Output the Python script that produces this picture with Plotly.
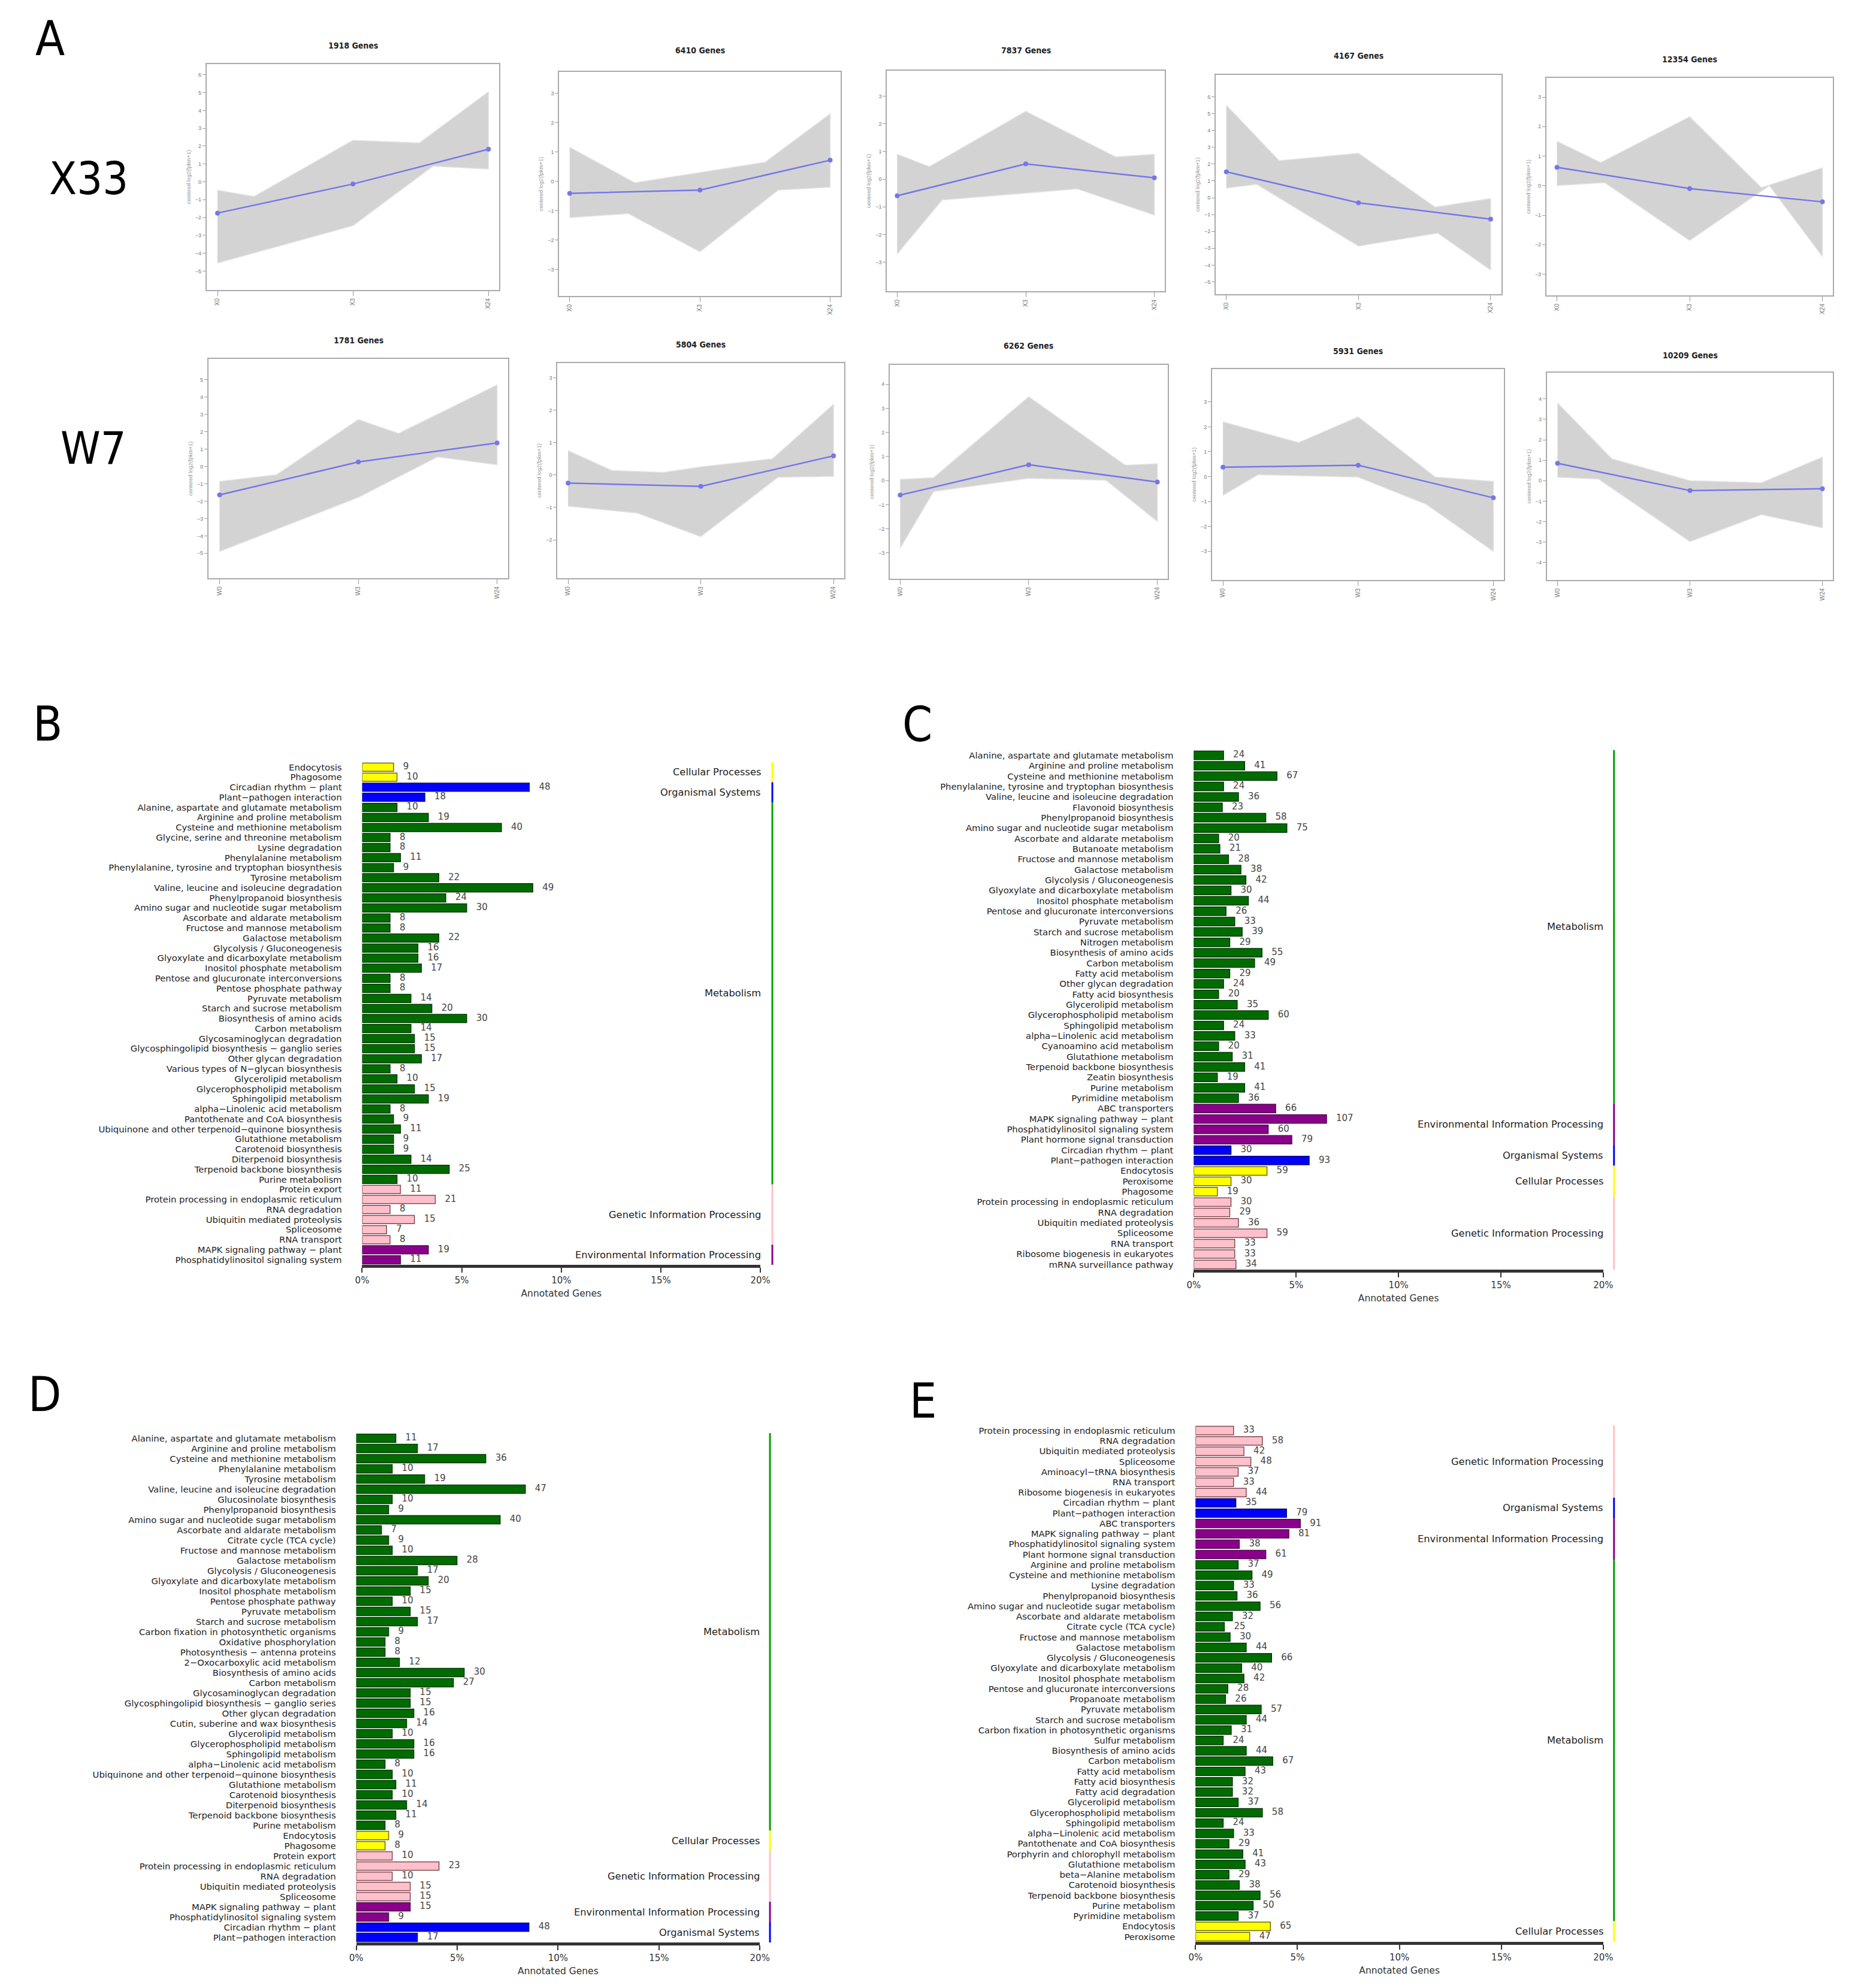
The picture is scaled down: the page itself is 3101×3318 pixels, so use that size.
import plotly.graph_objects as go

W, H = 3101, 3318

# ---------------- panel A: expression clusters ----------------
time_x = [0, 1, 2]
x33_ticks = ["X0", "X3", "X24"]
w7_ticks = ["W0", "W3", "W24"]

x33_titles = ["1918 Genes", "6410 Genes", "7837 Genes", "4167 Genes", "12354 Genes"]
w7_titles = ["1781 Genes", "5804 Genes", "6262 Genes", "5931 Genes", "10209 Genes"]

# mean profile (blue line) of each cluster
x33_means = [[-1.75, -0.12, 1.83], [-0.41, -0.30, 0.72], [-0.60, 0.55, 0.05],
             [1.54, -0.30, -1.27], [0.62, -0.10, -0.55]]
w7_means = [[-1.64, 0.26, 1.36], [-0.25, -0.35, 0.59], [-0.60, 0.66, -0.06],
            [0.38, 0.46, -0.85], [0.85, -0.48, -0.39]]

# outline of the gray bundle of gene lines, (time position, value)
x33_upper = [
    [(0, -0.47), (0.27, -0.82), (1, 2.33), (1.49, 2.18), (2, 5.05)],
    [(0, 1.16), (0.5, -0.05), (1, 0.30), (1.5, 0.65), (2, 2.30)],
    [(0, 0.90), (0.25, 0.45), (1, 2.45), (1.7, 0.80), (2, 0.90)],
    [(0, 5.50), (0.4, 2.20), (1, 2.64), (1.58, -0.56), (2, -0.05)],
    [(0, 1.50), (0.33, 0.78), (1, 2.33), (1.54, -0.07), (2, 0.60)],
]
x33_lower = [
    [(0, -4.55), (1, -2.45), (1.59, 0.88), (2, 0.72)],
    [(0, -1.24), (0.45, -1.10), (1, -2.40), (1.6, -0.30), (2, -0.20)],
    [(0, -2.70), (0.35, -0.75), (1, -0.50), (1.4, -0.35), (2, -1.30)],
    [(0, 0.57), (0.23, 0.80), (1, -2.87), (1.6, -2.10), (2, -4.29)],
    [(0, 0.00), (0.36, 0.10), (1, -1.86), (1.6, 0.00), (2, -2.40)],
]
w7_upper = [
    [(0, -0.86), (0.41, -0.48), (1, 2.70), (1.29, 1.90), (2, 4.70)],
    [(0, 0.75), (0.33, 0.14), (0.72, 0.08), (1, 0.25), (1.54, 0.50), (2, 2.18)],
    [(0, 0.05), (0.26, 0.12), (1, 3.48), (1.75, 0.64), (2, 0.70)],
    [(0, 2.20), (0.56, 1.37), (1, 2.40), (1.57, -0.02), (2, -0.19)],
    [(0, 3.80), (0.41, 1.07), (1, 0.00), (1.54, -0.10), (2, 1.15)],
]
w7_lower = [
    [(0, -4.90), (1, -1.78), (1.57, 0.55), (2, 0.10)],
    [(0, -0.96), (0.52, -1.17), (1, -1.90), (1.58, -0.07), (2, -0.04)],
    [(0, -2.80), (0.26, -0.45), (1, 0.10), (1.6, 0.02), (2, -1.69)],
    [(0, -0.75), (0.26, 0.08), (1, -0.02), (1.5, -1.10), (2, -3.00)],
    [(0, 0.17), (0.31, 0.08), (1, -2.97), (1.54, -1.65), (2, -2.30)],
]

# ---------------- panels B-E: KEGG classification ----------------
b_names = ["Endocytosis", "Phagosome", "Circadian rhythm − plant", "Plant−pathogen interaction",
           "Alanine, aspartate and glutamate metabolism", "Arginine and proline metabolism",
           "Cysteine and methionine metabolism", "Glycine, serine and threonine metabolism",
           "Lysine degradation", "Phenylalanine metabolism",
           "Phenylalanine, tyrosine and tryptophan biosynthesis", "Tyrosine metabolism",
           "Valine, leucine and isoleucine degradation", "Phenylpropanoid biosynthesis",
           "Amino sugar and nucleotide sugar metabolism", "Ascorbate and aldarate metabolism",
           "Fructose and mannose metabolism", "Galactose metabolism", "Glycolysis / Gluconeogenesis",
           "Glyoxylate and dicarboxylate metabolism", "Inositol phosphate metabolism",
           "Pentose and glucuronate interconversions", "Pentose phosphate pathway",
           "Pyruvate metabolism", "Starch and sucrose metabolism", "Biosynthesis of amino acids",
           "Carbon metabolism", "Glycosaminoglycan degradation",
           "Glycosphingolipid biosynthesis − ganglio series", "Other glycan degradation",
           "Various types of N−glycan biosynthesis", "Glycerolipid metabolism",
           "Glycerophospholipid metabolism", "Sphingolipid metabolism",
           "alpha−Linolenic acid metabolism", "Pantothenate and CoA biosynthesis",
           "Ubiquinone and other terpenoid−quinone biosynthesis", "Glutathione metabolism",
           "Carotenoid biosynthesis", "Diterpenoid biosynthesis", "Terpenoid backbone biosynthesis",
           "Purine metabolism", "Protein export", "Protein processing in endoplasmic reticulum",
           "RNA degradation", "Ubiquitin mediated proteolysis", "Spliceosome", "RNA transport",
           "MAPK signaling pathway − plant", "Phosphatidylinositol signaling system"]
b_counts = [9, 10, 48, 18, 10, 19, 40, 8, 8, 11, 9, 22, 49, 24, 30, 8, 8, 22, 16, 16, 17, 8, 8,
            14, 20, 30, 14, 15, 15, 17, 8, 10, 15, 19, 8, 9, 11, 9, 9, 14, 25, 10, 11, 21, 8, 15,
            7, 8, 19, 11]
b_groups = [("Cellular Processes", 2), ("Organismal Systems", 2), ("Metabolism", 38),
            ("Genetic Information Processing", 6), ("Environmental Information Processing", 2)]
b_total = 572

c_names = ["Alanine, aspartate and glutamate metabolism", "Arginine and proline metabolism",
           "Cysteine and methionine metabolism", "Phenylalanine, tyrosine and tryptophan biosynthesis",
           "Valine, leucine and isoleucine degradation", "Flavonoid biosynthesis",
           "Phenylpropanoid biosynthesis", "Amino sugar and nucleotide sugar metabolism",
           "Ascorbate and aldarate metabolism", "Butanoate metabolism",
           "Fructose and mannose metabolism", "Galactose metabolism", "Glycolysis / Gluconeogenesis",
           "Glyoxylate and dicarboxylate metabolism", "Inositol phosphate metabolism",
           "Pentose and glucuronate interconversions", "Pyruvate metabolism",
           "Starch and sucrose metabolism", "Nitrogen metabolism", "Biosynthesis of amino acids",
           "Carbon metabolism", "Fatty acid metabolism", "Other glycan degradation",
           "Fatty acid biosynthesis", "Glycerolipid metabolism", "Glycerophospholipid metabolism",
           "Sphingolipid metabolism", "alpha−Linolenic acid metabolism",
           "Cyanoamino acid metabolism", "Glutathione metabolism", "Terpenoid backbone biosynthesis",
           "Zeatin biosynthesis", "Purine metabolism", "Pyrimidine metabolism", "ABC transporters",
           "MAPK signaling pathway − plant", "Phosphatidylinositol signaling system",
           "Plant hormone signal transduction", "Circadian rhythm − plant",
           "Plant−pathogen interaction", "Endocytosis", "Peroxisome", "Phagosome",
           "Protein processing in endoplasmic reticulum", "RNA degradation",
           "Ubiquitin mediated proteolysis", "Spliceosome", "RNA transport",
           "Ribosome biogenesis in eukaryotes", "mRNA surveillance pathway"]
c_counts = [24, 41, 67, 24, 36, 23, 58, 75, 20, 21, 28, 38, 42, 30, 44, 26, 33, 39, 29, 55, 49,
            29, 24, 20, 35, 60, 24, 33, 20, 31, 41, 19, 41, 36, 66, 107, 60, 79, 30, 93, 59, 30,
            19, 30, 29, 36, 59, 33, 33, 34]
c_groups = [("Metabolism", 34), ("Environmental Information Processing", 4),
            ("Organismal Systems", 2), ("Cellular Processes", 3),
            ("Genetic Information Processing", 7)]
c_total = 1650

d_names = ["Alanine, aspartate and glutamate metabolism", "Arginine and proline metabolism",
           "Cysteine and methionine metabolism", "Phenylalanine metabolism", "Tyrosine metabolism",
           "Valine, leucine and isoleucine degradation", "Glucosinolate biosynthesis",
           "Phenylpropanoid biosynthesis", "Amino sugar and nucleotide sugar metabolism",
           "Ascorbate and aldarate metabolism", "Citrate cycle (TCA cycle)",
           "Fructose and mannose metabolism", "Galactose metabolism", "Glycolysis / Gluconeogenesis",
           "Glyoxylate and dicarboxylate metabolism", "Inositol phosphate metabolism",
           "Pentose phosphate pathway", "Pyruvate metabolism", "Starch and sucrose metabolism",
           "Carbon fixation in photosynthetic organisms", "Oxidative phosphorylation",
           "Photosynthesis − antenna proteins", "2−Oxocarboxylic acid metabolism",
           "Biosynthesis of amino acids", "Carbon metabolism", "Glycosaminoglycan degradation",
           "Glycosphingolipid biosynthesis − ganglio series", "Other glycan degradation",
           "Cutin, suberine and wax biosynthesis", "Glycerolipid metabolism",
           "Glycerophospholipid metabolism", "Sphingolipid metabolism",
           "alpha−Linolenic acid metabolism", "Ubiquinone and other terpenoid−quinone biosynthesis",
           "Glutathione metabolism", "Carotenoid biosynthesis", "Diterpenoid biosynthesis",
           "Terpenoid backbone biosynthesis", "Purine metabolism", "Endocytosis", "Phagosome",
           "Protein export", "Protein processing in endoplasmic reticulum", "RNA degradation",
           "Ubiquitin mediated proteolysis", "Spliceosome", "MAPK signaling pathway − plant",
           "Phosphatidylinositol signaling system", "Circadian rhythm − plant",
           "Plant−pathogen interaction"]
d_counts = [11, 17, 36, 10, 19, 47, 10, 9, 40, 7, 9, 10, 28, 17, 20, 15, 10, 15, 17, 9, 8, 8, 12,
            30, 27, 15, 15, 16, 14, 10, 16, 16, 8, 10, 11, 10, 14, 11, 8, 9, 8, 10, 23, 10, 15,
            15, 15, 9, 48, 17]
d_groups = [("Metabolism", 39), ("Cellular Processes", 2), ("Genetic Information Processing", 5),
            ("Environmental Information Processing", 2), ("Organismal Systems", 2)]
d_total = 561

e_names = ["Protein processing in endoplasmic reticulum", "RNA degradation",
           "Ubiquitin mediated proteolysis", "Spliceosome", "Aminoacyl−tRNA biosynthesis",
           "RNA transport", "Ribosome biogenesis in eukaryotes", "Circadian rhythm − plant",
           "Plant−pathogen interaction", "ABC transporters", "MAPK signaling pathway − plant",
           "Phosphatidylinositol signaling system", "Plant hormone signal transduction",
           "Arginine and proline metabolism", "Cysteine and methionine metabolism",
           "Lysine degradation", "Phenylpropanoid biosynthesis",
           "Amino sugar and nucleotide sugar metabolism", "Ascorbate and aldarate metabolism",
           "Citrate cycle (TCA cycle)", "Fructose and mannose metabolism", "Galactose metabolism",
           "Glycolysis / Gluconeogenesis", "Glyoxylate and dicarboxylate metabolism",
           "Inositol phosphate metabolism", "Pentose and glucuronate interconversions",
           "Propanoate metabolism", "Pyruvate metabolism", "Starch and sucrose metabolism",
           "Carbon fixation in photosynthetic organisms", "Sulfur metabolism",
           "Biosynthesis of amino acids", "Carbon metabolism", "Fatty acid metabolism",
           "Fatty acid biosynthesis", "Fatty acid degradation", "Glycerolipid metabolism",
           "Glycerophospholipid metabolism", "Sphingolipid metabolism",
           "alpha−Linolenic acid metabolism", "Pantothenate and CoA biosynthesis",
           "Porphyrin and chlorophyll metabolism", "Glutathione metabolism",
           "beta−Alanine metabolism", "Carotenoid biosynthesis", "Terpenoid backbone biosynthesis",
           "Purine metabolism", "Pyrimidine metabolism", "Endocytosis", "Peroxisome"]
e_counts = [33, 58, 42, 48, 37, 33, 44, 35, 79, 91, 81, 38, 61, 37, 49, 33, 36, 56, 32, 25, 30,
            44, 66, 40, 42, 28, 26, 57, 44, 31, 24, 44, 67, 43, 32, 32, 37, 58, 24, 33, 29, 41,
            43, 29, 38, 56, 50, 37, 65, 47]
e_groups = [("Genetic Information Processing", 7), ("Organismal Systems", 2),
            ("Environmental Information Processing", 4), ("Metabolism", 35),
            ("Cellular Processes", 2)]
e_total = 1770

pct_ticks = [0, 5, 10, 15, 20]
pct_labels = ["0%", "5%", "10%", "15%", "20%"]

# ---------------- styling ----------------
FILL = {"Metabolism": "#006c00", "Genetic Information Processing": "#ffc0cb",
        "Environmental Information Processing": "#8b008b", "Cellular Processes": "#ffff00",
        "Organismal Systems": "#0000ff"}
EDGE = {"Metabolism": "#063806", "Genetic Information Processing": "#7d4a52",
        "Environmental Information Processing": "#4a104a", "Cellular Processes": "#6a6a10",
        "Organismal Systems": "#10106a"}
STRIP = {"Metabolism": "#00a000", "Genetic Information Processing": "#ffc0cb",
         "Environmental Information Processing": "#8b008b", "Cellular Processes": "#ffff00",
         "Organismal Systems": "#0000ff"}

GRAY_BAND = "#d3d3d3"
MEAN_COL = "#7676ea"
LABEL_FONT = "DejaVu Sans"
BIG_FONT = "Liberation Sans Narrow, DejaVu Sans Condensed, Liberation Sans, sans-serif"


def ax_names(n):
    return ("xaxis" if n == 1 else f"xaxis{n}", "yaxis" if n == 1 else f"yaxis{n}",
            "x" if n == 1 else f"x{n}", "y" if n == 1 else f"y{n}")


def xdom(x0, x1):
    return [x0 / W, x1 / W]


def ydom(y0, y1):
    return [1 - y1 / H, 1 - y0 / H]


fig = go.Figure()
layout = {}
annotations = []
shapes = []

# boxes in pixels: left, right, top, bottom
a_boxes = [(328, 821, 99, 476), (922, 1396, 112, 486), (1474, 1942, 110, 478),
           (2028, 2509, 117, 483), (2585, 3068, 122, 485),
           (331, 836, 591, 957), (919, 1402, 598, 957), (1479, 1947, 601, 958),
           (2022, 2514, 608, 960), (2586, 3068, 614, 960)]
a_title_y = [68, 76, 76, 85, 91, 560, 567, 569, 578, 585]
a_yranges = [[-6.06, 6.6], [-3.91, 3.73], [-4.05, 3.92], [-5.73, 7.3], [-3.72, 3.65],
             [-6.44, 6.2], [-3.18, 3.45], [-4.07, 4.8], [-4.15, 4.32], [-4.85, 5.28]]
a_yticks = [(-5, 6), (-3, 3), (-3, 3), (-5, 6), (-3, 3),
            (-5, 5), (-2, 3), (-3, 4), (-3, 3), (-4, 4)]

titles = x33_titles + w7_titles
means = x33_means + w7_means
uppers = x33_upper + w7_upper
lowers = x33_lower + w7_lower

for i in range(10):
    n = i + 1
    xa, ya, xr, yr = ax_names(n)
    up, lo = uppers[i], lowers[i]
    px = [p[0] for p in up] + [p[0] for p in reversed(lo)]
    py = [p[1] for p in up] + [p[1] for p in reversed(lo)]
    fig.add_trace(go.Scatter(x=px, y=py, mode="lines", fill="toself", fillcolor=GRAY_BAND,
                             line=dict(color="#e2e2e2", width=1.5), hoverinfo="skip",
                             xaxis=xr, yaxis=yr))
    fig.add_trace(go.Scatter(x=time_x, y=means[i], mode="lines+markers",
                             line=dict(color=MEAN_COL, width=2.5),
                             marker=dict(size=8, color=MEAN_COL), xaxis=xr, yaxis=yr))
    x0, x1, y0, y1 = a_boxes[i]
    lo_t, hi_t = a_yticks[i]
    layout[xa] = dict(domain=xdom(x0, x1), anchor=yr, range=[-0.08, 2.08], tickvals=time_x,
                      ticktext=x33_ticks if i < 5 else w7_ticks, tickangle=-90,
                      ticks="outside", ticklen=8, tickcolor="#999", showline=True, mirror=True,
                      linecolor="#aaaaaa", linewidth=2, showgrid=False, zeroline=False,
                      tickfont=dict(size=10, color="#777", family="Liberation Sans"))
    layout[ya] = dict(domain=ydom(y0, y1), anchor=xr, range=a_yranges[i],
                      tickvals=list(range(lo_t, hi_t + 1)), ticks="outside", ticklen=5,
                      tickcolor="#999", showline=True, mirror=True, linecolor="#aaaaaa",
                      linewidth=2, showgrid=False, zeroline=False,
                      tickfont=dict(size=9, color="#777", family="Liberation Sans"),
                      title=dict(text="centered log2(fpkm+1)", standoff=6,
                                 font=dict(size=9, color="#999", family="Liberation Sans")))
    annotations.append(dict(text="<b>" + titles[i] + "</b>", x=(x0 + x1) / 2 / W,
                            y=1 - a_title_y[i] / H, xref="paper", yref="paper", showarrow=False,
                            font=dict(size=14, color="#222", family=BIG_FONT),
                            xanchor="center", yanchor="middle"))

# bar panels: plot box (left, right, top, bottom), label right edge, strip x
panels = [
    (b_names, b_counts, b_groups, b_total, (590, 1261, 1264, 2103), 1264, 1281),
    (c_names, c_counts, c_groups, c_total, (1991, 2681, 1244, 2111), 2683, 2699),
    (d_names, d_counts, d_groups, d_total, (580, 1260, 2384, 3234), 1262, 1277),
    (e_names, e_counts, e_groups, e_total, (1994, 2681, 2371, 3233), 2683, 2699),
]

for k, (names, counts, groups, total, box, lab_x, strip_x) in enumerate(panels):
    n = 11 + k
    xa, ya, xr, yr = ax_names(n)
    grp = []
    for g, m in groups:
        grp += [g] * m
    pct = [c / total * 100 for c in counts]
    fig.add_trace(go.Bar(x=pct, y=names, orientation="h",
                         marker=dict(color=[FILL[g] for g in grp],
                                     line=dict(color=[EDGE[g] for g in grp], width=1.5)),
                         xaxis=xr, yaxis=yr))
    fig.add_trace(go.Scatter(x=pct, y=names, mode="markers+text", text=[str(c) for c in counts],
                             textposition="middle right", cliponaxis=False,
                             marker=dict(size=24, color="rgba(0,0,0,0)"),
                             textfont=dict(size=15, color="#444", family=LABEL_FONT),
                             xaxis=xr, yaxis=yr))
    x0, x1, y0, y1 = box
    nb = len(names)
    layout[xa] = dict(domain=xdom(x0, x1), anchor=yr, range=[0, 20], tickvals=pct_ticks,
                      ticktext=pct_labels, ticks="outside", ticklen=8, tickwidth=2,
                      tickcolor="#333", showline=True, linecolor="#333", linewidth=5,
                      showgrid=False, zeroline=False,
                      tickfont=dict(size=15, color="#333", family=LABEL_FONT),
                      title=dict(text="Annotated Genes", standoff=10,
                                 font=dict(size=15.5, color="#333", family=LABEL_FONT)))
    layout[ya] = dict(domain=ydom(y0, y1), anchor=xr, type="category",
                      categoryorder="array", categoryarray=names, range=[nb - 0.5, -0.5],
                      tickmode="array", tickvals=names, ticktext=names,
                      showline=False, showgrid=False, zeroline=False, ticks="outside",
                      ticklen=30, tickcolor="rgba(0,0,0,0)",
                      tickfont=dict(size=14.8, color="#222", family=LABEL_FONT))
    start = 0
    for g, m in groups:
        end = start + m - 1
        shapes.append(dict(type="line", xref="paper", yref=yr, x0=strip_x / W, x1=strip_x / W,
                           y0=start - 0.5, y1=end + 0.5, line=dict(color=STRIP[g], width=3)))
        annotations.append(dict(text=g, xref="paper", yref=yr, x=lab_x / W, y=(start + end) / 2,
                                xanchor="right", yanchor="middle", showarrow=False,
                                font=dict(size=16.3, color="#222", family=LABEL_FONT)))
        start = end + 1

# panel letters and row labels
for txt, cx, cy in [("A", 64, 57), ("B", 60, 1200), ("C", 1525, 1201), ("D", 55, 2319),
                    ("E", 1535, 2330), ("X33", 129, 290), ("W7", 137, 740)]:
    annotations.append(dict(text=txt, x=cx / W, y=1 - cy / H, xref="paper", yref="paper",
                            showarrow=False, xanchor="center", yanchor="middle",
                            font=dict(size=80 if len(txt) == 1 else 75, color="#000",
                                      family=BIG_FONT)))

fig.update_layout(width=W, height=H, margin=dict(l=0, r=0, t=0, b=0),
                  paper_bgcolor="white", plot_bgcolor="white", showlegend=False,
                  bargap=0.18, font=dict(family=LABEL_FONT),
                  annotations=annotations, shapes=shapes, **layout)

fig.write_html("out.html")
